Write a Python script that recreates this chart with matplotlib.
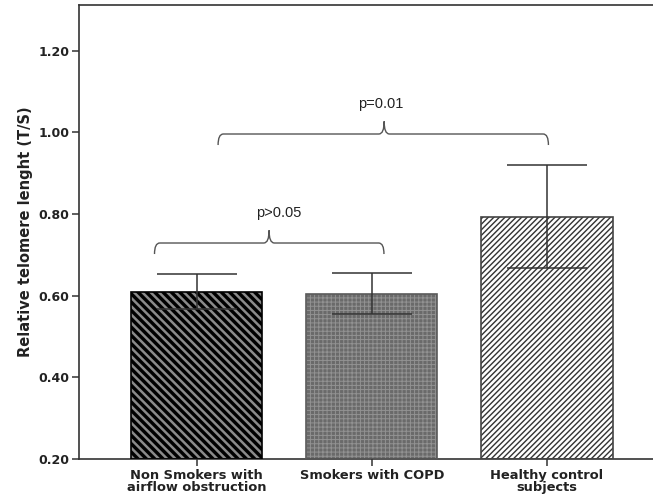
import matplotlib
matplotlib.use("Agg")
import matplotlib.pyplot as plt
from matplotlib.path import Path
from matplotlib.patches import PathPatch
import numpy as np

categories = ["Non Smokers with\nairflow obstruction", "Smokers with COPD", "Healthy control\nsubjects"]
means = [0.610, 0.605, 0.793]
err_low = [0.568, 0.555, 0.667]
err_high = [0.653, 0.656, 0.920]
yticks = [0.20, 0.40, 0.60, 0.80, 1.00, 1.20]
ytick_labels = ["0.20", "0.40", "0.60", "0.80", "1.00", "1.20"]
ylabel = "Relative telomere lenght (T/S)"
# brackets: (x_left, x_right, x_peak, y_level, label, label_x)
brackets = [(-0.24, 1.07, 0.414, 0.729, "p>0.05", 0.47),
            (0.123, 2.009, 1.071, 0.996, "p=0.01", 1.054)]

plt.rcParams['font.family'] = ['DejaVu Sans']

fig = plt.figure(figsize=(6.53, 4.99), dpi=100)
ax = fig.add_axes([0.121, 0.0802, 0.879, 0.9098])

x = np.arange(len(categories))
width = 0.75

styles = [
    dict(face="#000000", hatch="\\\\\\\\", hcolor="#8a8a8a", hlw=1.8, edge="#000000"),
    dict(face="#6a6a6a", hatch="++++", hcolor="#929292", hlw=0.7, edge="#5a5a5a"),
    dict(face="#ffffff", hatch="//////", hcolor="#333333", hlw=1.0, edge="#444444"),
]

for i in range(len(categories)):
    s = styles[i]
    with plt.rc_context({'hatch.linewidth': s['hlw']}):
        ax.bar(x[i], means[i] - 0.2, width, bottom=0.2, color=s['face'],
               edgecolor=s['hcolor'], hatch=s['hatch'], linewidth=0, zorder=2)
    ax.bar(x[i], means[i] - 0.2, width, bottom=0.2, fill=False,
           edgecolor=s['edge'], linewidth=1.2, zorder=3)

yerr = np.array([np.array(means) - np.array(err_low), np.array(err_high) - np.array(means)])
ax.errorbar(x, means, yerr=yerr, fmt='none', ecolor='#333333', elinewidth=1.1,
            capsize=29, capthick=1.1, zorder=4)

def brace(ax, x0, x1, xp, yh, label, xt):
    tip = 0.027
    pk = 0.031
    dx = 0.03
    verts = [(x0, yh - tip), (x0, yh), (x0 + dx, yh),
             (xp - dx, yh),
             (xp, yh), (xp, yh + pk),
             (xp, yh), (xp + dx, yh),
             (x1 - dx, yh),
             (x1, yh), (x1, yh - tip)]
    codes = [Path.MOVETO, Path.CURVE3, Path.CURVE3,
             Path.LINETO,
             Path.CURVE3, Path.CURVE3,
             Path.CURVE3, Path.CURVE3,
             Path.LINETO,
             Path.CURVE3, Path.CURVE3]
    ax.add_patch(PathPatch(Path(verts, codes), fill=False, edgecolor='#555555', lw=1.0, zorder=5))
    ax.text(xt, yh + 0.074, label, ha='center', va='center', fontsize=10.5,
            color='#222222', fontfamily='Liberation Sans')

for (x0, x1, xp, yh, lab, xt) in brackets:
    brace(ax, x0, x1, xp, yh, lab, xt)

ax.set_xlim(-0.671, 2.606)
ax.set_ylim(0.2, 1.312)
ax.set_yticks(yticks)
ax.set_yticklabels(ytick_labels, fontsize=9, fontweight='bold', color='#222222')
ax.set_xticks(x)
ax.set_xticklabels(categories, fontsize=9.4, fontweight='bold', color='#222222', linespacing=0.95)
ax.set_ylabel(ylabel, fontsize=10.5, fontweight='bold', color='#222222', labelpad=4)
ax.tick_params(axis='both', direction='out', length=5, width=1.1, color='#333333', pad=2)
for sp in ['left', 'top', 'bottom']:
    ax.spines[sp].set_color('#333333')
    ax.spines[sp].set_linewidth(1.2)
ax.spines['right'].set_visible(False)

fig.savefig("out.png", dpi=100)
